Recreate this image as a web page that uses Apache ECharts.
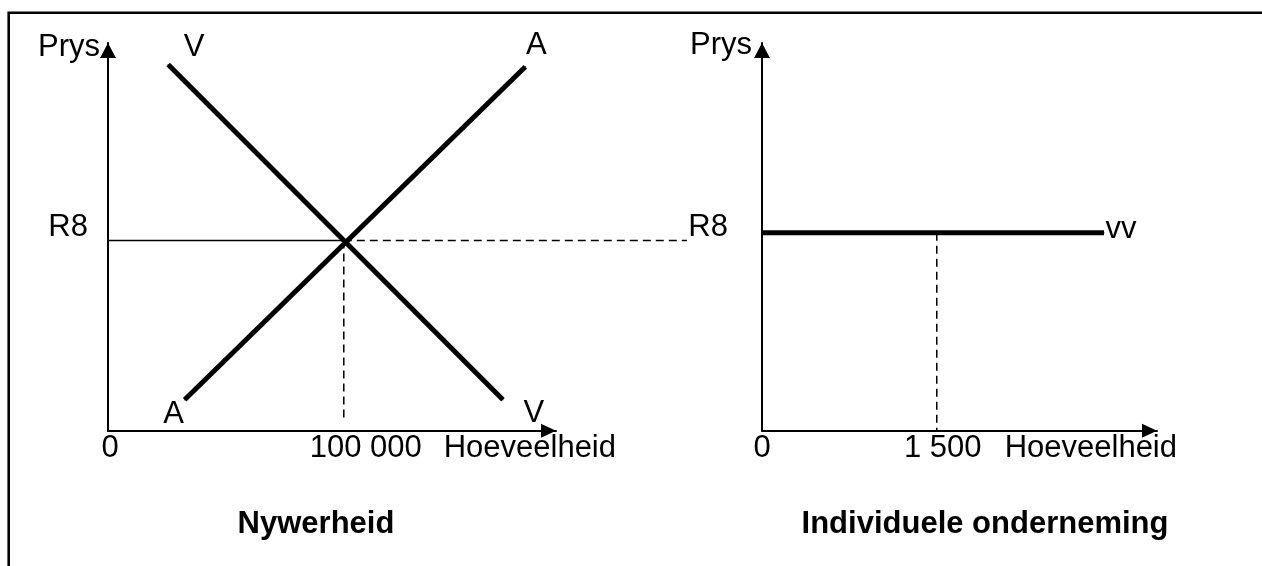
<!DOCTYPE html>
<html>
<head>
<meta charset="utf-8">
<title>Nywerheid en individuele onderneming</title>
<script src="https://cdn.jsdelivr.net/npm/echarts@6/dist/echarts.min.js"></script>
<style>
html, body { margin: 0; padding: 0; background: #fff; }
#chart { width: 1262px; height: 566px; }
</style>
</head>
<body>
<div id="chart"></div>
<script>
// --- Nywerheid (left panel) ---
const industryTicks = [0, 100000]
const industryTickLabels = ['0', '100 000']
const industryXMax = 190000
const industryYMax = 16.3
const demandV = [[25500, 15.4], [167500, 1.3]]
const supplyA = [[32500, 1.3], [177000, 15.3]]
const industryEq = [100000, 8]
const priceDashEnd = 245500
const industryDashBottom = 0.37

// --- Individuele onderneming (right panel) ---
const firmTicks = [0, 1500]
const firmTickLabels = ['0', '1 500']
const firmXMax = 3390
const firmYMax = 15.66
const firmDemand = [[0, 8], [2935, 8]]
const firmEq = [1500, 8]

const priceLabel = 'R8'
const priceName = 'Prys'
const qtyName = 'Hoeveelheid'
const panelTitles = ['Nywerheid', 'Individuele onderneming']

const FONT = 'Liberation Sans, Arial, sans-serif'
const FS = 31
const axisStyle = { color: '#000', width: 2 }
const thick = { color: '#000', width: 5, cap: 'butt' }
const thin = { color: '#000', width: 1.5 }
const dashed = { color: '#000', width: 1.5, type: [8, 5] }

// grid geometry (px)
const leftGrid = { left: 108, top: 43, width: 448, height: 387.7 }
const rightGrid = { left: 762, top: 43, width: 395, height: 387.7 }
const extWidth = 600 // invisible extension of the left panel, for the dashed price line

function xAxisFor(gridIndex, max, ticks, labels, shifts, nameGap) {
  const rich = {}
  shifts.forEach((s, i) => { rich['t' + i] = { padding: [0, 0, 0, s * 2] } })
  return {
    type: 'value', gridIndex: gridIndex, min: 0, max: max,
    axisLine: { show: true, onZero: false, lineStyle: axisStyle, symbol: ['none', 'triangle'], symbolSize: [14, 15], symbolOffset: [0, -7.5] },
    axisTick: { show: false },
    splitLine: { show: false },
    axisLabel: {
      customValues: ticks,
      margin: 2,
      color: '#000', fontFamily: FONT, fontSize: FS, lineHeight: FS,
      formatter: function (v) {
        const i = ticks.indexOf(v)
        return i < 0 ? '' : '{t' + i + '|' + labels[i] + '}'
      },
      rich: rich
    },
    name: qtyName, nameLocation: 'end', nameGap: nameGap,
    nameTextStyle: { color: '#000', fontFamily: FONT, fontSize: FS, align: 'right', verticalAlign: 'top', lineHeight: FS, padding: [2, 0, 0, 0] }
  }
}

function yAxisFor(gridIndex, max, labelMargin, labelLineHeight, nameGap, namePad) {
  return {
    type: 'value', gridIndex: gridIndex, min: 0, max: max,
    axisLine: { show: true, onZero: false, lineStyle: axisStyle, symbol: ['none', 'triangle'], symbolSize: [16, 15], symbolOffset: [0, -7.5] },
    axisTick: { show: false },
    splitLine: { show: false },
    axisLabel: {
      customValues: [industryEq[1]],
      formatter: function () { return priceLabel },
      margin: labelMargin,
      color: '#000', fontFamily: FONT, fontSize: FS,
      lineHeight: labelLineHeight,
      verticalAlign: 'bottom'
    },
    name: priceName, nameLocation: 'end', nameGap: nameGap,
    nameTextStyle: { color: '#000', fontFamily: FONT, fontSize: FS, align: 'right', verticalAlign: 'middle', padding: [0, namePad, 0, 0] }
  }
}

function hiddenAxis(gridIndex, max) {
  return { type: 'value', gridIndex: gridIndex, min: 0, max: max, show: false, splitLine: { show: false } }
}

function letter(text, dx, dy) {
  return { show: true, formatter: text, position: 'inside', offset: [dx, dy], color: '#000', fontFamily: FONT, fontSize: FS }
}

function curve(xi, data, style, extra) {
  return Object.assign({
    type: 'line', xAxisIndex: xi, yAxisIndex: xi,
    data: data, lineStyle: style,
    symbol: 'circle', symbolSize: 1, showSymbol: true,
    itemStyle: { color: '#000' },
    emphasis: { disabled: true }, silent: true
  }, extra || {})
}

const chart = echarts.init(document.getElementById('chart'))
chart.setOption({
  animation: false,
  textStyle: { fontFamily: FONT, color: '#000' },
  grid: [
    Object.assign({ outerBoundsMode: 'none' }, leftGrid),
    Object.assign({ outerBoundsMode: 'none' }, rightGrid),
    Object.assign({ outerBoundsMode: 'none' }, leftGrid, { width: extWidth })
  ],
  xAxis: [
    xAxisFor(0, industryXMax, industryTicks, industryTickLabels, [2, 22], 60),
    xAxisFor(1, firmXMax, firmTicks, firmTickLabels, [0, 6], 20),
    hiddenAxis(2, industryXMax * extWidth / leftGrid.width)
  ],
  yAxis: [
    yAxisFor(0, industryYMax, 20, 25, -4, 8),
    yAxisFor(1, firmYMax, 34, 11, -2, 10),
    hiddenAxis(2, industryYMax)
  ],
  series: [
    curve(0, [
      { value: demandV[0], label: letter('V', 26, -17) },
      { value: demandV[1], label: letter('V', 31, 14) }
    ], thick),
    curve(0, [
      { value: supplyA[0], label: letter('A', -11, 15) },
      { value: supplyA[1], label: letter('A', 11, -21) }
    ], thick),
    curve(0, [[0, industryEq[1]], industryEq], thin, { symbol: 'none' }),
    curve(2, [industryEq, [priceDashEnd, industryEq[1]]], dashed, { symbol: 'none' }),
    curve(0, [industryEq, [industryEq[0], industryDashBottom]], dashed, { symbol: 'none' }),
    curve(1, [firmEq, [firmEq[0], 0]], dashed, { symbol: 'none' }),
    curve(1, [
      { value: firmDemand[0] },
      { value: firmDemand[1], label: { show: true, formatter: 'vv', position: 'right', distance: 1, offset: [0, -3], color: '#000', fontFamily: FONT, fontSize: FS } }
    ], thick)
  ],
  graphic: [
    { type: 'polyline', silent: true, shape: { points: [[8.7, 566], [8.7, 12.8], [1262, 12.8]] }, style: { stroke: '#000', lineWidth: 2.6, fill: null } },
    { type: 'text', silent: true, x: 316, y: 524, style: { text: panelTitles[0], font: 'bold 31px Liberation Sans, Arial, sans-serif', fill: '#000', align: 'center', verticalAlign: 'middle' } },
    { type: 'text', silent: true, x: 985, y: 524, style: { text: panelTitles[1], font: 'bold 31px Liberation Sans, Arial, sans-serif', fill: '#000', align: 'center', verticalAlign: 'middle' } }
  ]
})
</script>
</body>
</html>
